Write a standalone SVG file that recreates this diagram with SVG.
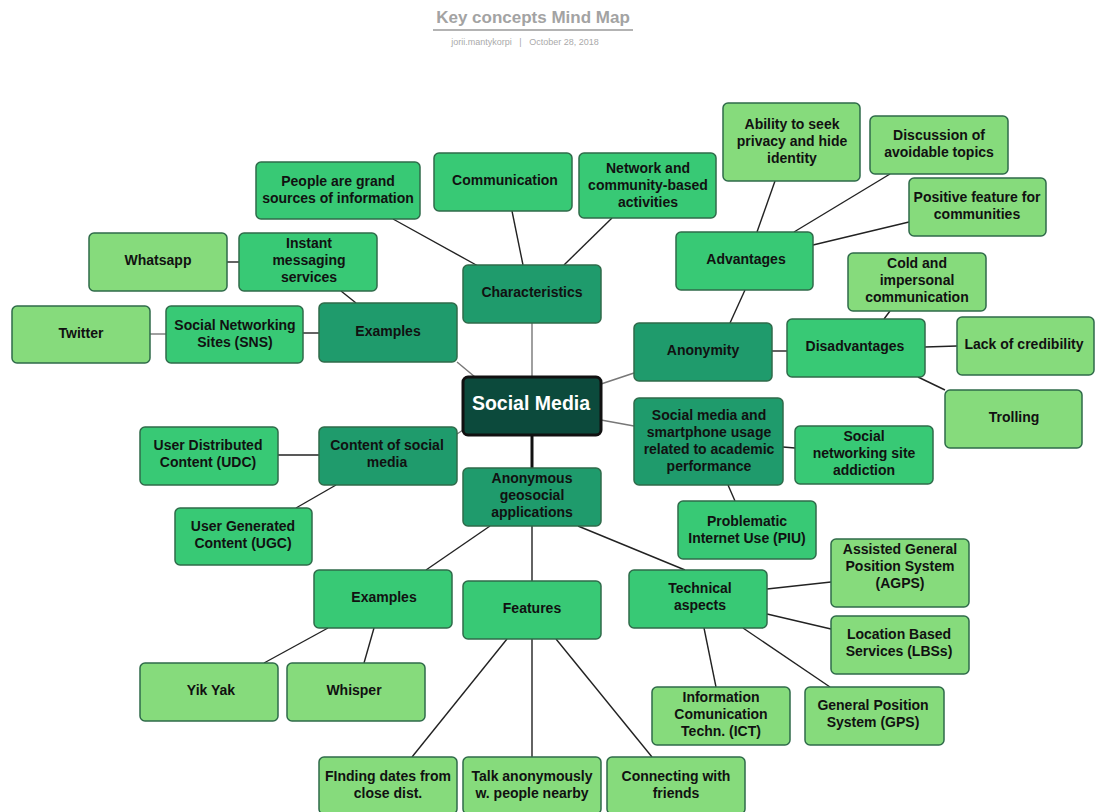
<svg xmlns="http://www.w3.org/2000/svg" width="1095" height="812" viewBox="0 0 1095 812">
<style>
.n rect{stroke:#2f6b4a;stroke-width:1.5}
.l1 rect{fill:#1f9b6c}
.l2 rect{fill:#38c975}
.l3 rect{fill:#86db7c}
.n text{font-family:"Liberation Sans",Arial,sans-serif;font-weight:bold;font-size:14px;fill:#111;text-anchor:middle;dominant-baseline:central}
.c line{stroke:#222;stroke-width:1.4}
.c line.g{stroke:#777}
</style>
<rect width="1095" height="812" fill="#fff"/>
<text x="533" y="23" font-family="Liberation Sans,Arial,sans-serif" font-weight="bold" font-size="17" fill="#a3a3a3" text-anchor="middle">Key concepts Mind Map</text>
<line x1="433" y1="30" x2="633" y2="30" stroke="#9a9a9a" stroke-width="1.5"/>
<text x="525" y="45" font-family="Liberation Sans,Arial,sans-serif" font-size="9" fill="#aaa" text-anchor="middle" xml:space="preserve">jorii.mantykorpi   |   October 28, 2018</text>
<g class="c" id="connectors">
<line x1="393" y1="219" x2="478" y2="266"/>
<line x1="512" y1="211" x2="523" y2="265"/>
<line x1="612" y1="218" x2="564" y2="265"/>
<line class="g" x1="532" y1="323" x2="532" y2="377"/>
<line class="g" x1="457" y1="362" x2="475" y2="377"/>
<line x1="341" y1="291" x2="356" y2="303"/>
<line x1="303" y1="333" x2="319" y2="333"/>
<line class="g" x1="150" y1="334" x2="166" y2="334"/>
<line x1="227" y1="262" x2="239" y2="262"/>
<line class="g" x1="601" y1="384" x2="634" y2="373"/>
<line x1="730" y1="323" x2="745" y2="290"/>
<line x1="775" y1="181" x2="757" y2="232"/>
<line x1="890" y1="174" x2="794" y2="232"/>
<line x1="909" y1="222" x2="813" y2="245"/>
<line x1="772" y1="351" x2="787" y2="351"/>
<line x1="890" y1="311" x2="884" y2="319"/>
<line x1="925" y1="347" x2="957" y2="346"/>
<line x1="918" y1="377" x2="945" y2="390"/>
<line class="g" x1="601" y1="420" x2="634" y2="426"/>
<line x1="783" y1="447" x2="795" y2="448"/>
<line x1="728" y1="485" x2="735" y2="501"/>
<line class="g" x1="463" y1="430" x2="457" y2="434"/>
<line x1="278" y1="455" x2="319" y2="455"/>
<line x1="336" y1="485" x2="296" y2="508"/>
<line x1="532" y1="435" x2="532" y2="468" style="stroke:#111;stroke-width:3"/>
<line x1="490" y1="526" x2="426" y2="570"/>
<line x1="532" y1="526" x2="532" y2="581"/>
<line x1="578" y1="526" x2="685" y2="570"/>
<line x1="328" y1="628" x2="264" y2="663"/>
<line x1="374" y1="628" x2="364" y2="663"/>
<line x1="507" y1="639" x2="412" y2="757"/>
<line x1="532" y1="639" x2="532" y2="757"/>
<line x1="556" y1="639" x2="652" y2="757"/>
<line x1="767" y1="589" x2="831" y2="582"/>
<line x1="767" y1="614" x2="831" y2="629"/>
<line x1="704" y1="628" x2="716" y2="687"/>
<line x1="743" y1="628" x2="830" y2="687"/>
</g>
<g id="social-media" class="n"><rect x="463" y="377" width="138" height="58" rx="5" style="fill:#0c4a3c;stroke:#111;stroke-width:3"/><text x="531" y="403" style="fill:#fff;font-size:19.5px">Social Media</text></g>
<g id="characteristics" class="n l1"><rect x="463" y="265" width="138" height="58" rx="5"/><text x="532" y="292">Characteristics</text></g>
<g id="communication" class="n l2"><rect x="434" y="153" width="138" height="58" rx="5"/><text x="505" y="180">Communication</text></g>
<g id="network" class="n l2"><rect x="579" y="153" width="137" height="65" rx="5"/><text x="648" y="168">Network and</text><text x="648" y="185">community-based</text><text x="648" y="202">activities</text></g>
<g id="people" class="n l2"><rect x="256" y="162" width="164" height="57" rx="5"/><text x="338" y="181">People are grand</text><text x="338" y="198">sources of information</text></g>
<g id="examples-left" class="n l1"><rect x="319" y="303" width="138" height="59" rx="5"/><text x="388" y="331">Examples</text></g>
<g id="instant" class="n l2"><rect x="239" y="233" width="138" height="58" rx="5"/><text x="309" y="243">Instant</text><text x="309" y="260">messaging</text><text x="309" y="277">services</text></g>
<g id="whatsapp" class="n l3"><rect x="89" y="233" width="138" height="58" rx="5"/><text x="158" y="260">Whatsapp</text></g>
<g id="sns" class="n l2"><rect x="166" y="306" width="137" height="57" rx="5"/><text x="235" y="325">Social Networking</text><text x="235" y="342">Sites (SNS)</text></g>
<g id="twitter" class="n l3"><rect x="12" y="306" width="138" height="57" rx="5"/><text x="81" y="333">Twitter</text></g>
<g id="anonymity" class="n l1"><rect x="634" y="323" width="138" height="58" rx="5"/><text x="703" y="350">Anonymity</text></g>
<g id="advantages" class="n l2"><rect x="676" y="232" width="137" height="58" rx="5"/><text x="746" y="259">Advantages</text></g>
<g id="ability" class="n l3"><rect x="723" y="103" width="137" height="78" rx="5"/><text x="792" y="124">Ability to seek</text><text x="792" y="141">privacy and hide</text><text x="792" y="158">identity</text></g>
<g id="discussion" class="n l3"><rect x="870" y="116" width="138" height="58" rx="5"/><text x="939" y="135">Discussion of</text><text x="939" y="152">avoidable topics</text></g>
<g id="positive" class="n l3"><rect x="909" y="178" width="137" height="58" rx="5"/><text x="977" y="197">Positive feature for</text><text x="977" y="214">communities</text></g>
<g id="disadvantages" class="n l2"><rect x="787" y="319" width="138" height="58" rx="5"/><text x="855" y="346">Disadvantages</text></g>
<g id="cold" class="n l3"><rect x="848" y="253" width="138" height="58" rx="5"/><text x="917" y="263">Cold and</text><text x="917" y="280">impersonal</text><text x="917" y="297">communication</text></g>
<g id="credibility" class="n l3"><rect x="957" y="317" width="137" height="58" rx="5"/><text x="1024" y="344">Lack of credibility</text></g>
<g id="trolling" class="n l3"><rect x="945" y="390" width="137" height="58" rx="5"/><text x="1014" y="417">Trolling</text></g>
<g id="smartphone" class="n l1"><rect x="634" y="398" width="149" height="87" rx="5"/><text x="709" y="415">Social media and</text><text x="709" y="432">smartphone usage</text><text x="709" y="449">related to academic</text><text x="709" y="466">performance</text></g>
<g id="addiction" class="n l2"><rect x="795" y="426" width="138" height="58" rx="5"/><text x="864" y="436">Social</text><text x="864" y="453">networking site</text><text x="864" y="470">addiction</text></g>
<g id="piu" class="n l2"><rect x="678" y="501" width="138" height="58" rx="5"/><text x="747" y="521">Problematic</text><text x="747" y="538">Internet Use (PIU)</text></g>
<g id="content" class="n l1"><rect x="319" y="427" width="138" height="58" rx="5"/><text x="387" y="445">Content of social</text><text x="387" y="462">media</text></g>
<g id="udc" class="n l2"><rect x="140" y="427" width="138" height="58" rx="5"/><text x="208" y="445">User Distributed</text><text x="208" y="462">Content (UDC)</text></g>
<g id="ugc" class="n l2"><rect x="175" y="508" width="137" height="57" rx="5"/><text x="243" y="526">User Generated</text><text x="243" y="543">Content (UGC)</text></g>
<g id="geosocial" class="n l1"><rect x="463" y="468" width="138" height="58" rx="5"/><text x="532" y="478">Anonymous</text><text x="532" y="495">geosocial</text><text x="532" y="512">applications</text></g>
<g id="examples-bottom" class="n l2"><rect x="314" y="570" width="138" height="58" rx="5"/><text x="384" y="597">Examples</text></g>
<g id="yikyak" class="n l3"><rect x="140" y="663" width="138" height="58" rx="5"/><text x="211" y="690">Yik Yak</text></g>
<g id="whisper" class="n l3"><rect x="287" y="663" width="138" height="58" rx="5"/><text x="354" y="690">Whisper</text></g>
<g id="features" class="n l2"><rect x="463" y="581" width="138" height="58" rx="5"/><text x="532" y="608">Features</text></g>
<g id="finding" class="n l3"><rect x="319" y="757" width="138" height="57" rx="5"/><text x="388" y="776">FInding dates from</text><text x="388" y="793">close dist.</text></g>
<g id="talk" class="n l3"><rect x="463" y="757" width="138" height="57" rx="5"/><text x="532" y="776">Talk anonymously</text><text x="532" y="793">w. people nearby</text></g>
<g id="connecting" class="n l3"><rect x="607" y="757" width="138" height="57" rx="5"/><text x="676" y="776">Connecting with</text><text x="676" y="793">friends</text></g>
<g id="technical" class="n l2"><rect x="629" y="570" width="138" height="58" rx="5"/><text x="700" y="588">Technical</text><text x="700" y="605">aspects</text></g>
<g id="agps" class="n l3"><rect x="831" y="539" width="138" height="68" rx="5"/><text x="900" y="549">Assisted General</text><text x="900" y="566">Position System</text><text x="900" y="583">(AGPS)</text></g>
<g id="lbs" class="n l3"><rect x="831" y="616" width="138" height="58" rx="5"/><text x="899" y="634">Location Based</text><text x="899" y="651">Services (LBSs)</text></g>
<g id="ict" class="n l3"><rect x="652" y="687" width="138" height="58" rx="5"/><text x="721" y="697">Information</text><text x="721" y="714">Comunication</text><text x="721" y="731">Techn. (ICT)</text></g>
<g id="gps" class="n l3"><rect x="805" y="687" width="139" height="58" rx="5"/><text x="873" y="705">General Position</text><text x="873" y="722">System (GPS)</text></g>
</svg>
